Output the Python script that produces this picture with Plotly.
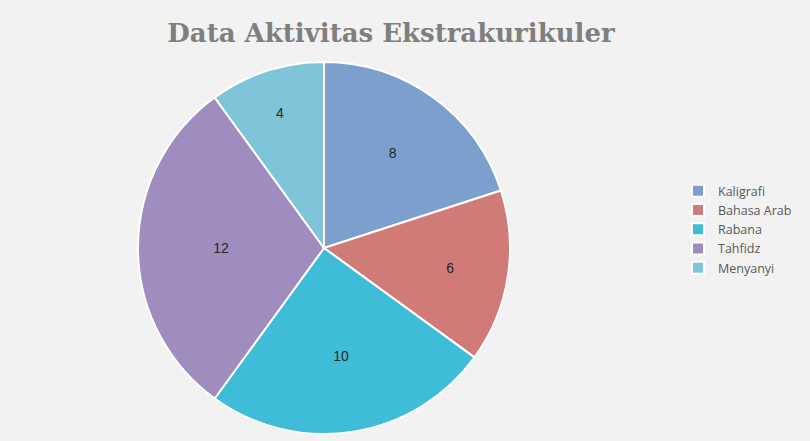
import plotly.graph_objects as go

categories = ["Kaligrafi", "Bahasa Arab", "Rabana", "Tahfidz", "Menyanyi"]
values = [8, 6, 10, 12, 4]
colors = ["#7D9FCE", "#D07B78", "#3FBCD8", "#A18CC0", "#7FC4D8"]
title_text = "Data Aktivitas Ekstrakurikuler"

W, H = 810, 441
cx, cy, r = 324, 248, 186

fig = go.Figure(go.Pie(
    labels=categories,
    values=values,
    sort=False,
    direction="clockwise",
    rotation=0,
    marker=dict(colors=colors, line=dict(color="white", width=2)),
    textinfo="value",
    textposition="inside",
    insidetextorientation="horizontal",
    textfont=dict(family="Liberation Sans, Arial, sans-serif", size=14, color="#262626"),
    domain=dict(x=[(cx - r) / W, (cx + r) / W], y=[(H - cy - r) / H, (H - cy + r) / H]),
    hoverinfo="label+value",
))

fig.update_layout(
    width=W, height=H,
    margin=dict(l=0, r=0, t=0, b=0),
    paper_bgcolor="#F2F2F2",
    plot_bgcolor="#F2F2F2",
    title=dict(
        text="<b>" + title_text + "</b>",
        x=391 / W, xanchor="center",
        y=1 - 33 / H, yanchor="middle",
        font=dict(family="DejaVu Serif, Liberation Serif, serif", size=26, color="#7F7F7F"),
    ),
    legend=dict(
        x=678 / W, xanchor="left",
        y=1 - 176 / H, yanchor="top",
        font=dict(family="Open Sans, Liberation Sans, sans-serif", size=12.5, color="#595959"),
        bgcolor="rgba(0,0,0,0)",
        itemwidth=30,
        tracegroupgap=0,
    ),
    showlegend=True,
)

fig.write_html("out.html")
